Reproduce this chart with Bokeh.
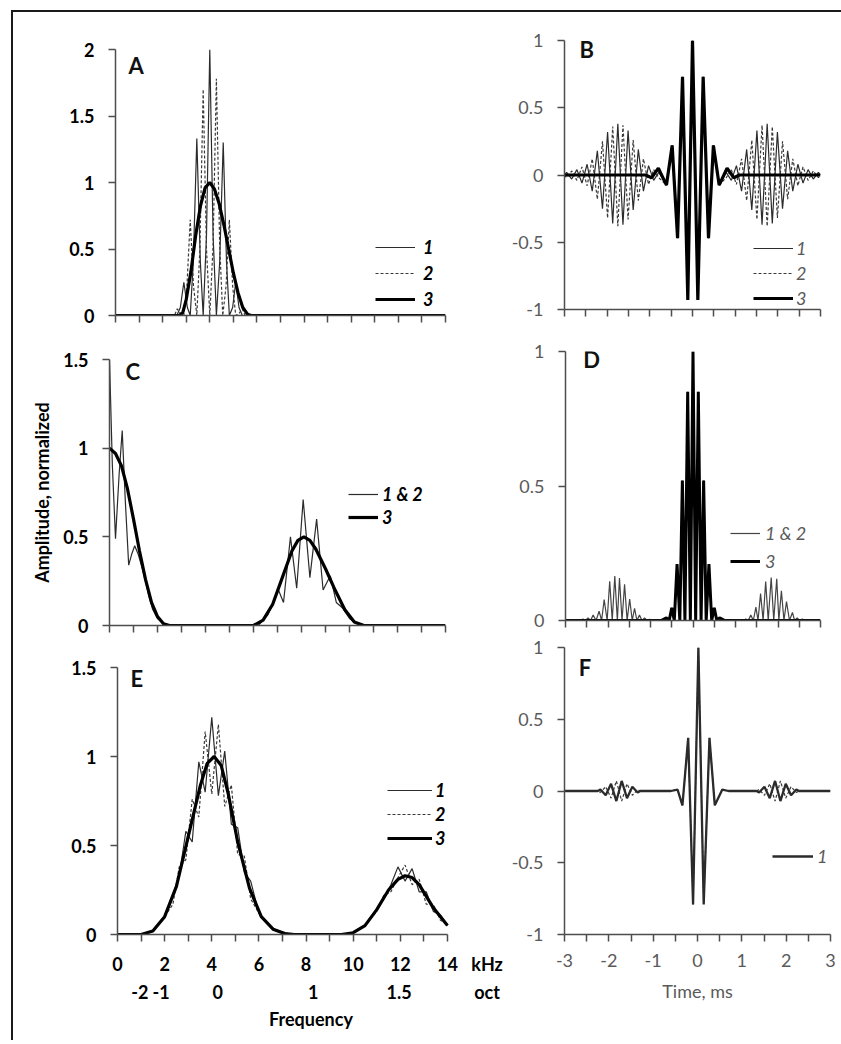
from bokeh.plotting import figure
from bokeh.layouts import column, row
from bokeh.models import (Range1d, FixedTicker, NumeralTickFormatter, CustomJSTickFormatter,
                          Legend, LegendItem, Label, LinearAxis, Spacer)
from bokeh.embed import file_html
from bokeh.resources import INLINE

FONT = "Lato"

# ---------------- tick values / labels ----------------
KHZ_ALL = list(range(0, 15))
KHZ_LAB_POS = [0, 2, 4, 6, 8, 10, 12, 14, 15.68]
KHZ_LABELS = ["0", "2", "4", "6", "8", "10", "12", "14", "kHz"]
OCT_POS = [0.95, 1.85, 4.25, 8.3, 11.95, 15.68]
OCT_LABELS = ["-2", "-1", "0", "1", "1.5", "oct"]
MS_MAJOR = [-3, -2, -1, 0, 1, 2, 3]
MS_MINOR = [-2.5, -1.5, -0.5, 0.5, 1.5, 2.5]
MS_ALL = [-3, -2.5, -2, -1.5, -1, -0.5, 0, 0.5, 1, 1.5, 2, 2.5, 3]

# ---------------- Panel A : spectra ----------------
a1_f = [0, 2.6, 2.75, 2.9, 3.05, 3.17, 3.3, 3.45, 3.6, 3.72, 3.86, 4.0, 4.14, 4.28, 4.42, 4.57, 4.71, 4.83, 4.97, 5.1, 5.24, 5.38, 14]
a1_y = [0, 0, 0.06, 0.25, 0.06, 0, 0.4, 1.33, 0.4, 0, 0.6, 2.0, 0.6, 0, 0.4, 1.3, 0.4, 0, 0.06, 0.25, 0.06, 0, 0]
a2_f = [0, 2.5, 2.62, 2.76, 2.9, 3.03, 3.17, 3.31, 3.45, 3.58, 3.72, 3.86, 4.0, 4.14, 4.28, 4.42, 4.55, 4.69, 4.83, 4.97, 5.1, 5.24, 5.38, 5.5, 14]
a2_y = [0, 0, 0.05, 0.015, 0, 0.22, 0.72, 0.22, 0, 0.5, 1.7, 0.5, 0, 0.53, 1.78, 0.53, 0, 0.22, 0.72, 0.22, 0, 0.015, 0.05, 0, 0]
a3_f = [0, 2.7, 2.85, 3.0, 3.2, 3.4, 3.6, 3.8, 4.0, 4.2, 4.4, 4.6, 4.8, 5.0, 5.2, 5.4, 5.6, 5.75, 14]
a3_y = [0, 0, 0.02, 0.12, 0.33, 0.6, 0.82, 0.96, 1.0, 0.95, 0.84, 0.68, 0.5, 0.32, 0.17, 0.06, 0.01, 0, 0]

# ---------------- Panel B : waveforms ----------------
b_left_t = [-2.95, -2.83, -2.71, -2.59, -2.47, -2.35, -2.23, -2.11, -1.99, -1.87, -1.75, -1.63, -1.51, -1.39, -1.27, -1.15, -1.03, -0.91, -0.79]
b1_left = [0.02, -0.03, 0.04, -0.06, 0.08, -0.12, 0.18, -0.25, 0.32, -0.36, 0.38, -0.37, 0.33, -0.26, 0.19, -0.12, 0.07, -0.04, 0.02]
b2_left = [-0.02, 0.03, -0.04, 0.06, -0.08, 0.12, -0.18, 0.25, -0.32, 0.36, -0.38, 0.37, -0.33, 0.26, -0.19, 0.12, -0.07, 0.04, -0.02]
b_right_t = [0.79, 0.91, 1.03, 1.15, 1.27, 1.39, 1.51, 1.63, 1.75, 1.87, 1.99, 2.11, 2.23, 2.35, 2.47, 2.59, 2.71, 2.83, 2.95]
b1_right = [0.02, -0.04, 0.07, -0.12, 0.19, -0.26, 0.33, -0.37, 0.38, -0.36, 0.32, -0.25, 0.18, -0.12, 0.08, -0.06, 0.04, -0.03, 0.02]
b2_right = [-0.02, 0.04, -0.07, 0.12, -0.19, 0.26, -0.33, 0.37, -0.38, 0.36, -0.32, 0.25, -0.18, 0.12, -0.08, 0.06, -0.04, 0.03, -0.02]
b3_t = [-3.0, -1.1, -0.96, -0.80, -0.61, -0.477, -0.35, -0.234, -0.11, 0.0, 0.125, 0.25, 0.375, 0.49, 0.625, 0.81, 0.97, 1.1, 3.0]
b3_y = [0, 0, -0.02, 0.05, -0.075, 0.22, -0.47, 0.73, -0.93, 1.0, -0.93, 0.73, -0.47, 0.22, -0.075, 0.05, -0.02, 0, 0]

# ---------------- Panel C : spectra ----------------
c12_f = [0, 0.12, 0.25, 0.4, 0.53, 0.66, 0.8, 0.92, 1.05, 1.2, 1.35, 1.5, 1.65, 1.8, 2.0, 2.3, 2.6,
         6.2, 6.6, 7.04, 7.25, 7.54, 7.8, 8.07, 8.35, 8.63, 8.9, 9.2, 9.45, 9.7, 10.0, 10.3, 10.6, 14]
c12_y = [1.5, 0.9, 0.49, 0.85, 1.1, 0.7, 0.34, 0.4, 0.45, 0.4, 0.33, 0.25, 0.16, 0.09, 0.04, 0.01, 0,
         0, 0.06, 0.2, 0.13, 0.5, 0.21, 0.71, 0.27, 0.6, 0.2, 0.28, 0.13, 0.1, 0.04, 0.01, 0, 0]
c3_f = [0, 0.25, 0.5, 0.75, 1.0, 1.25, 1.5, 1.75, 2.0, 2.25, 2.5,
        6.0, 6.4, 6.8, 7.2, 7.6, 7.85, 8.1, 8.35, 8.6, 9.0, 9.4, 9.8, 10.2, 10.6, 14]
c3_y = [1.0, 0.97, 0.9, 0.77, 0.6, 0.42, 0.26, 0.13, 0.05, 0.01, 0,
        0, 0.03, 0.12, 0.27, 0.42, 0.48, 0.5, 0.48, 0.43, 0.32, 0.2, 0.09, 0.02, 0, 0]

# ---------------- Panel D : squared waveforms ----------------
d3_t = [-3.0, -0.75, -0.625, -0.56, -0.5, -0.44, -0.375, -0.31, -0.25, -0.19, -0.125, -0.0625, 0.0,
        0.0625, 0.125, 0.19, 0.25, 0.31, 0.375, 0.44, 0.5, 0.56, 0.625, 0.75, 3.0]
d3_y = [0, 0, 0.01, 0, 0.047, 0, 0.21, 0, 0.52, 0, 0.85, 0, 1.0,
        0, 0.85, 0, 0.52, 0, 0.21, 0, 0.047, 0, 0.01, 0, 0]
d_left_t = [-2.65, -2.59, -2.53, -2.47, -2.41, -2.35, -2.28, -2.21, -2.15, -2.09, -2.02, -1.96, -1.9, -1.84, -1.78,
            -1.73, -1.67, -1.61, -1.55, -1.49, -1.43, -1.375, -1.32, -1.26, -1.2, -1.14, -1.08, -1.02, -0.96]
d_left_y = [0, 0.005, 0, 0.01, 0, 0.02, 0, 0.035, 0, 0.078, 0, 0.146, 0, 0.165, 0,
            0.158, 0, 0.135, 0, 0.08, 0, 0.045, 0, 0.02, 0, 0.01, 0, 0.004, 0]
d_right_t = [1.18, 1.24, 1.30, 1.36, 1.42, 1.48, 1.53, 1.59, 1.65, 1.71, 1.77, 1.84, 1.9, 1.97, 2.02,
             2.08, 2.14, 2.2, 2.27, 2.34, 2.39, 2.45, 2.51, 2.57, 2.63]
d_right_y = [0, 0.006, 0, 0.02, 0, 0.05, 0, 0.1, 0, 0.145, 0, 0.16, 0, 0.155, 0,
             0.11, 0, 0.07, 0, 0.03, 0, 0.01, 0, 0.005, 0]

# ---------------- Panel E : spectra ----------------
e_f = [0, 1.0, 1.5, 2.0, 2.35, 2.62, 2.9, 3.17, 3.45, 3.72, 4.0, 4.28, 4.55, 4.83, 5.1, 5.38, 5.65, 6.0, 6.5, 7.0, 7.5,
       9.5, 10.0, 10.5, 11.0, 11.3, 11.6, 11.9, 12.2, 12.5, 12.8, 13.1, 13.4, 13.7, 14.0]
e1_y = [0, 0, 0.02, 0.1, 0.22, 0.33, 0.58, 0.52, 0.97, 0.8, 1.22, 0.78, 1.03, 0.62, 0.6, 0.35, 0.3, 0.12, 0.04, 0.01, 0,
        0, 0.01, 0.05, 0.14, 0.2, 0.28, 0.38, 0.3, 0.37, 0.24, 0.24, 0.13, 0.11, 0.05]
e2_y = [0, 0, 0.02, 0.1, 0.17, 0.38, 0.42, 0.76, 0.66, 1.14, 0.79, 1.18, 0.72, 0.84, 0.45, 0.44, 0.2, 0.12, 0.04, 0.01, 0,
        0, 0.01, 0.05, 0.13, 0.22, 0.24, 0.32, 0.39, 0.28, 0.31, 0.17, 0.17, 0.08, 0.06]
e3_f = [0, 1.0, 1.5, 2.0, 2.5, 3.0, 3.5, 3.8, 4.1, 4.4, 4.7, 5.1, 5.6, 6.1, 6.6, 7.1, 7.5,
        9.5, 10.0, 10.5, 11.0, 11.5, 11.9, 12.2, 12.5, 12.8, 13.4, 14.0]
e3_y = [0, 0, 0.02, 0.1, 0.27, 0.55, 0.83, 0.96, 1.0, 0.95, 0.79, 0.52, 0.26, 0.1, 0.03, 0.005, 0,
        0, 0.01, 0.05, 0.14, 0.25, 0.31, 0.33, 0.32, 0.28, 0.15, 0.05]

# ---------------- Panel F : waveforms ----------------
f_ct = [-0.6, -0.45, -0.34, -0.21, -0.1, 0.02, 0.14, 0.27, 0.39, 0.56, 0.7]
f_cv = [0, 0.01, -0.1, 0.37, -0.79, 1.0, -0.79, 0.37, -0.1, 0.01, 0]
f_left_t = [-2.25, -2.19, -2.07, -1.95, -1.83, -1.71, -1.59, -1.47, -1.35, -1.29]
f1_left = [0, 0.01, -0.03, 0.05, -0.07, 0.07, -0.05, 0.03, -0.01, 0]
f2_left = [0, -0.01, 0.03, -0.05, 0.07, -0.07, 0.05, -0.03, 0.01, 0]
f_right_t = [1.33, 1.39, 1.51, 1.63, 1.75, 1.87, 1.99, 2.11, 2.23, 2.29]
f1_right = [0, -0.01, 0.03, -0.05, 0.07, -0.07, 0.05, -0.03, 0.01, 0]
f2_right = [0, 0.01, -0.03, 0.05, -0.07, 0.07, -0.05, 0.03, -0.01, 0]

# ---------------- styling helpers ----------------
LEFT_AX = "#4d4d4d"
RIGHT_AX = "#4d4d4d"
RIGHT_TXT = "#5a5a5a"
C1 = "#2b2b2b"
C2 = "#3a3a3a"
C3 = "#000000"
TICK_FS = "18px"
FRAME_COLOR = "#1a1a1a"


def style_axis(ax, left):
    col = LEFT_AX if left else RIGHT_AX
    ax.axis_line_color = col
    ax.axis_line_width = 1.5
    ax.major_tick_line_color = col
    ax.major_tick_line_width = 1.5
    ax.minor_tick_line_color = col
    ax.minor_tick_line_width = 1.5
    ax.major_tick_out = 7
    ax.major_tick_in = 0
    ax.minor_tick_out = 7
    ax.minor_tick_in = 0
    ax.major_label_text_font = FONT
    ax.major_label_text_font_size = TICK_FS
    ax.major_label_standoff = 14
    if left:
        ax.major_label_text_font_style = "bold"
        ax.major_label_text_color = "#000000"
    else:
        ax.major_label_text_font_style = "normal"
        ax.major_label_text_color = RIGHT_TXT


def make_panel(xr, yr, fw, fh, bl, br, bt, bb, left):
    p = figure(x_range=Range1d(*xr), y_range=Range1d(*yr), frame_width=fw, frame_height=fh,
               min_border_left=bl, min_border_right=br, min_border_top=bt, min_border_bottom=bb,
               output_backend="svg", toolbar_location=None, frame_align=False)
    p.xgrid.visible = False
    p.ygrid.visible = False
    p.outline_line_color = None
    p.background_fill_color = "white"
    p.border_fill_color = "white"
    style_axis(p.xaxis[0], left)
    style_axis(p.yaxis[0], left)
    p.yaxis[0].formatter = NumeralTickFormatter(format="0.[0]")
    return p


def hide_x_labels(p, ticks):
    ax = p.xaxis[0]
    ax.ticker = FixedTicker(ticks=ticks)
    ax.formatter = CustomJSTickFormatter(code="return ''")
    ax.major_label_text_font_size = "1px"
    ax.major_label_standoff = 0


def add_letter(p, x, y, txt):
    p.add_layout(Label(x=x, y=y, text=txt, text_font=FONT, text_font_style="bold",
                       text_font_size="22px", text_align="left", text_baseline="middle",
                       text_color="#111111"))


def add_legend(p, items, x, y, gw, standoff, spacing, left):
    leg = Legend(items=[LegendItem(label=lab, renderers=[r]) for lab, r in items],
                 location=(x, y), orientation="vertical", glyph_width=gw, glyph_height=22,
                 label_height=22, label_standoff=standoff, spacing=spacing, padding=0, margin=0,
                 border_line_color=None, background_fill_alpha=0,
                 label_text_font=FONT, label_text_font_size="18px",
                 label_text_font_style="bold italic" if left else "italic",
                 label_text_color="#000000" if left else RIGHT_TXT)
    p.add_layout(leg)


# ---------------- Panel A ----------------
pa = make_panel((0, 14), (0, 2), 330, 266, 102, 40, 37, 11, True)
pa.yaxis[0].ticker = FixedTicker(ticks=[0, 0.5, 1, 1.5, 2])
hide_x_labels(pa, KHZ_ALL)
ra1 = pa.line(a1_f, a1_y, line_color=C1, line_width=1.2)
ra2 = pa.line(a2_f, a2_y, line_color=C2, line_width=1.2, line_dash="3 2")
ra3 = pa.line(a3_f, a3_y, line_color=C3, line_width=3.2)
add_letter(pa, 0.55, 1.88, "A")
add_legend(pa, [("1", ra1), ("2", ra2), ("3", ra3)], 260, 5, 40, 8, 4, True)

# ---------------- Panel B ----------------
pb = make_panel((-3, 3), (-1, 1), 256, 269, 79, 10, 28, 17, False)
pb.yaxis[0].ticker = FixedTicker(ticks=[-1, -0.5, 0, 0.5, 1])
hide_x_labels(pb, MS_ALL)
b1_t = [-3.0] + b_left_t + b3_t[4:15] + b_right_t + [3.0]
b1_y = [0] + b1_left + b3_y[4:15] + b1_right + [0]
b2_y = [0] + b2_left + b3_y[4:15] + b2_right + [0]
rb1 = pb.line(b1_t, b1_y, line_color=C1, line_width=1.2)
rb2 = pb.line(b1_t, b2_y, line_color=C2, line_width=1.2, line_dash="3 2")
rb3 = pb.line(b3_t, b3_y, line_color=C3, line_width=3.2)
add_letter(pb, -2.65, 0.93, "B")
add_legend(pb, [("1", rb1), ("2", rb2), ("3", rb3)], 189, 0, 40, 3, 3, False)

# ---------------- Panel C ----------------
pc = make_panel((0, 14), (0, 1.5), 336, 266, 96, 40, 33, 11, True)
pc.yaxis[0].ticker = FixedTicker(ticks=[0, 0.5, 1, 1.5])
hide_x_labels(pc, KHZ_ALL)
pc.yaxis[0].axis_label = "Amplitude, normalized"
pc.yaxis[0].axis_label_text_font = FONT
pc.yaxis[0].axis_label_text_font_size = "18px"
pc.yaxis[0].axis_label_text_font_style = "bold"
pc.yaxis[0].axis_label_text_color = "#000000"
pc.yaxis[0].axis_label_standoff = 7
rc12 = pc.line(c12_f, c12_y, line_color=C1, line_width=1.2)
rc3 = pc.line(c3_f, c3_y, line_color=C3, line_width=3.2)
add_letter(pc, 0.67, 1.43, "C")
add_legend(pc, [("1 & 2", rc12), ("3", rc3)], 239, 97, 30, 4, 1, True)

# ---------------- Panel D ----------------
pd_ = make_panel((-3, 3), (0, 1), 255, 269, 80, 10, 25, 16, False)
pd_.yaxis[0].ticker = FixedTicker(ticks=[0, 0.5, 1])
hide_x_labels(pd_, MS_ALL)
d12_t = [-3.0] + d_left_t + d3_t[1:-1] + d_right_t + [3.0]
d12_y = [0] + d_left_y + d3_y[1:-1] + d_right_y + [0]
rd12 = pd_.line(d12_t, d12_y, line_color="#444444", line_width=1.2)
rd3 = pd_.line(d3_t, d3_y, line_color=C3, line_width=3.0)
add_letter(pd_, -2.58, 0.97, "D")
add_legend(pd_, [("1 & 2", rd12), ("3", rd3)], 165, 48, 30, 5, 6, False)

# ---------------- Panel E ----------------
# frame extends past 14 kHz so that the "kHz"/"oct" captions can sit at the right end of the label rows
pe = make_panel((0, 16.42), (0, 1.5), 387, 267, 104, 4, 31, 94, True)
pe.yaxis[0].ticker = FixedTicker(ticks=[0, 0.5, 1, 1.5])
hide_x_labels(pe, KHZ_ALL)
pe.xaxis[0].bounds = (0, 14)
khz_axis = LinearAxis(ticker=FixedTicker(ticks=KHZ_LAB_POS),
                      formatter=CustomJSTickFormatter(args=dict(labels=KHZ_LABELS), code="return labels[index]"),
                      axis_line_color=None, major_tick_line_color=None, minor_tick_line_color=None,
                      major_tick_out=0, major_tick_in=0, major_label_standoff=11,
                      major_label_text_font=FONT, major_label_text_font_size=TICK_FS,
                      major_label_text_font_style="bold", major_label_text_color="#000000")
pe.add_layout(khz_axis, "below")
oct_axis = LinearAxis(ticker=FixedTicker(ticks=OCT_POS),
                      formatter=CustomJSTickFormatter(args=dict(labels=OCT_LABELS), code="return labels[index]"),
                      axis_line_color=None, major_tick_line_color=None, minor_tick_line_color=None,
                      major_tick_out=0, major_tick_in=0, major_label_standoff=3,
                      major_label_text_font=FONT, major_label_text_font_size=TICK_FS,
                      major_label_text_font_style="bold", major_label_text_color="#000000",
                      axis_label="Frequency", axis_label_standoff=2, axis_label_text_font=FONT,
                      axis_label_text_font_size="18px", axis_label_text_font_style="bold",
                      axis_label_text_color="#000000")
pe.add_layout(oct_axis, "below")
re1 = pe.line(e_f, e1_y, line_color=C1, line_width=1.2)
re2 = pe.line(e_f, e2_y, line_color=C2, line_width=1.2, line_dash="3 2")
re3 = pe.line(e3_f, e3_y, line_color=C3, line_width=3.2)
add_letter(pe, 0.55, 1.44, "E")
add_legend(pe, [("1", re1), ("2", re2), ("3", re3)], 270, 85, 45, 3, 2, True)

# ---------------- Panel F ----------------
pf = make_panel((-3, 3), (-1, 1), 266, 287, 56, 11, 11, 94, False)
pf.yaxis[0].ticker = FixedTicker(ticks=[-1, -0.5, 0, 0.5, 1])
pf.xaxis[0].ticker = FixedTicker(ticks=MS_MAJOR, minor_ticks=MS_MINOR)
pf.xaxis[0].formatter = NumeralTickFormatter(format="0")
pf.xaxis[0].major_label_standoff = 12
pf.xaxis[0].axis_label = "Time, ms"
pf.xaxis[0].axis_label_text_font = FONT
pf.xaxis[0].axis_label_text_font_size = "18px"
pf.xaxis[0].axis_label_text_font_style = "normal"
pf.xaxis[0].axis_label_text_color = RIGHT_TXT
pf.xaxis[0].axis_label_standoff = 10
f_t = [-3.0] + f_left_t + f_ct + f_right_t + [3.0]
f1_y = [0] + f1_left + f_cv + f1_right + [0]
f2_y = [0] + f2_left + f_cv + f2_right + [0]
rf2 = pf.line(f_t, f2_y, line_color=C2, line_width=1.2, line_dash="3 2")
rf1 = pf.line(f_t, f1_y, line_color=C1, line_width=2.3)
add_letter(pf, -2.68, 0.86, "F")
add_legend(pf, [("1", rf1)], 208, 67, 41, 4, 0, False)

panels = column(row(pa, pb), row(pc, pd_), row(pe, pf))
top_bar = Spacer(width=828, height=2, styles={"background-color": FRAME_COLOR})
left_bar = Spacer(width=2, height=1030, styles={"background-color": FRAME_COLOR})
layout = row(left_bar, column(top_bar, panels), styles={"margin-left": "11px", "margin-top": "10px"})

# keep the page itself free of scrollbars
try:
    from bokeh.models import GlobalInlineStyleSheet
    layout.stylesheets = [GlobalInlineStyleSheet(css="html, body { overflow: hidden; }")]
except Exception:
    pass

with open("out.html", "w") as fh:
    fh.write(file_html(layout, INLINE))
